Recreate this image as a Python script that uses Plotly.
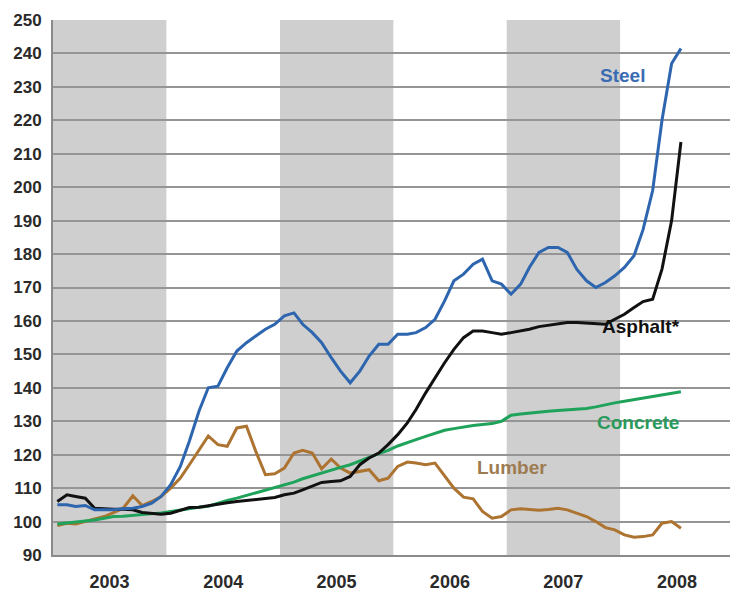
import pandas as pd
import plotly.graph_objects as go

# Monthly observations, Jan 2003 .. Jul 2008 (mid-month)
months = [f"{y}-{m:02d}-15" for y in range(2003, 2009) for m in range(1, 13)][:67]

steel = [105, 105, 104.5, 104.8, 103.5, 103.5, 103.5, 103.8, 104, 104.5, 105.5, 107.5,
         111, 116.5, 124, 133, 140, 140.5, 146, 151, 153.5, 155.5, 157.5, 159,
         161.5, 162.4, 159, 156.5, 153.5, 149, 145, 141.5, 145, 149.5, 153, 153,
         156, 156, 156.5, 158, 160.5, 166, 172, 174, 177, 178.5, 172, 171,
         168, 171, 176, 180.5, 182, 182, 180.5, 175.4, 172, 170, 171.5, 173.5,
         176, 179.5, 187.3, 199, 220, 237, 241.5]

asphalt = [106, 108, 107.5, 107, 104, 103.8, 103.7, 103.7, 103.5, 102.7, 102.5, 102.2,
           102.5, 103.5, 104.2, 104.3, 104.8, 105.2, 105.6, 106, 106.3, 106.7, 107, 107.2,
           108, 108.5, 109.5, 110.5, 111.7, 112, 112.2, 113.5, 117, 119, 120.5, 123,
           126, 129.5, 133.5, 138.5, 143, 147.5, 151.5, 155, 157, 157, 156.5, 156,
           156.5, 157, 157.5, 158.3, 158.7, 159, 159.5, 159.5, 159.3, 159, 159, 160.5,
           162, 164, 165.8, 166.5, 175.5, 190, 213.5]

concrete = [99.3, 99.6, 100, 100.2, 100.5, 101, 101.5, 101.6, 101.8, 102, 102.3, 102.6,
            103, 103.5, 104, 104.3, 104.6, 105.5, 106.3, 107, 107.8, 108.5, 109.3, 110.2,
            111, 111.8, 112.8, 113.7, 114.5, 115.3, 116.2, 117, 118, 119.2, 120.3, 121.3,
            122.6, 123.5, 124.5, 125.5, 126.4, 127.3, 127.8, 128.3, 128.7, 129, 129.3, 130,
            131.8, 132.2, 132.5, 132.8, 133, 133.2, 133.4, 133.5, 133.8, 134.3, 135, 135.5,
            136, 136.5, 137, 137.5, 138, 138.4, 138.8]

lumber = [98.8, 99.5, 99.3, 100, 100.8, 101.5, 102.7, 104, 107.7, 104.8, 106, 107.5,
          110, 113, 117, 121.5, 125.6, 123, 122.5, 128, 128.5, 121, 114, 114.3,
          116, 120.5, 121.3, 120.5, 115.8, 118.7, 116, 114.5, 115, 115.5, 112.2, 113,
          116.5, 117.8, 117.5, 117, 117.5, 113.5, 110, 107.3, 106.8, 103, 101, 101.5,
          103.5, 103.8, 103.6, 103.4, 103.6, 104, 103.5, 102.5, 101.5, 100, 98.2, 97.5,
          96, 95.3, 95.5, 96, 99.5, 100, 98]

years = ["2003", "2004", "2005", "2006", "2007", "2008"]
shaded_years = ["2003", "2005", "2007"]
y_ticks = list(range(90, 251, 10))

series = [
    ("Lumber", lumber, "#ad7330"),
    ("Concrete", concrete, "#1fa35a"),
    ("Asphalt*", asphalt, "#111111"),
    ("Steel", steel, "#2d65af"),
]

labels = [
    ("Steel", "2008-01-08", 233.3, "#3a6cb3"),
    ("Asphalt*", "2008-03-10", 158.2, "#111111"),
    ("Concrete", "2008-02-28", 129.5, "#2a9a5c"),
    ("Lumber", "2007-01-19", 116.3, "#9e7c52"),
]

fig = go.Figure()
for name, vals, col in series:
    fig.add_trace(go.Scatter(x=months, y=vals, mode="lines", name=name,
                             line=dict(color=col, width=3), showlegend=False))

for yr in shaded_years:
    fig.add_shape(type="rect", xref="x", yref="paper",
                  x0=f"{yr}-01-01", x1=f"{int(yr)+1}-01-01", y0=0, y1=1,
                  fillcolor="#cfcfcf", line=dict(width=0), layer="below")

for text, x, y, col in labels:
    fig.add_annotation(x=x, y=y, text=text, showarrow=False,
                       font=dict(family="Arial", size=19, color=col, weight="bold"))

fig.update_xaxes(type="date", range=["2003-01-01", "2008-12-20"],
                 tickvals=[f"{y}-07-02" for y in years], ticktext=years,
                 showgrid=False, zeroline=False,
                 showline=True, linecolor="#8a8a8a", linewidth=2,
                 tickfont=dict(family="Arial", size=18, color="#2a2a2a", weight="bold"),
                 ticks="", ticklabelstandoff=9)
fig.update_yaxes(range=[90, 250], tickvals=y_ticks,
                 showgrid=True, gridcolor="#959595", gridwidth=2,
                 zeroline=False, showline=True, linecolor="#8a8a8a", linewidth=2,
                 tickfont=dict(family="Arial", size=17, color="#2a2a2a", weight="bold"),
                 ticks="", ticklabelstandoff=6)

fig.update_layout(width=730, height=593, margin=dict(l=53, r=0, t=20, b=38),
                  paper_bgcolor="white", plot_bgcolor="white")

fig.write_html("out.html")
